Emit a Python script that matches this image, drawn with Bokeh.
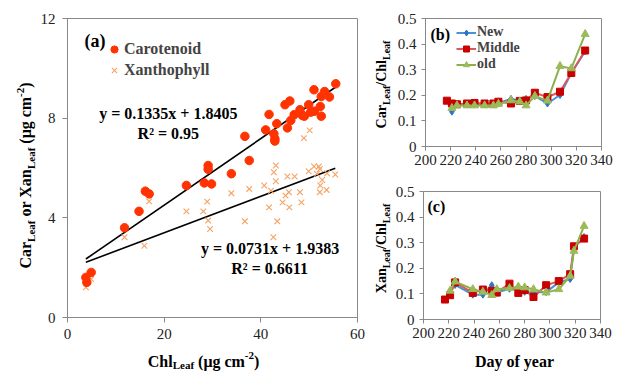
import math
from bokeh.plotting import figure
from bokeh.models import Range1d, FixedTicker, NumeralTickFormatter, Label, Legend, LegendItem
from bokeh.layouts import row, column
from bokeh.embed import file_html
from bokeh.resources import INLINE

# ---------------- data: panel (a) ----------------
car_chl = [3.8, 4.0, 4.9, 11.8, 14.8, 16.1, 16.9, 24.6, 28.3, 29.1, 29.1, 29.8, 33.9, 36.7, 37.6,
           41.0, 41.7, 42.7, 42.9, 42.9, 43.3, 45.0, 45.5, 46.0, 46.2, 46.9, 48.1, 48.6, 49.0,
           49.9, 50.3, 51.0, 51.1, 52.3, 52.5, 52.5, 53.2, 54.2, 55.5]
car_val = [1.61, 1.41, 1.81, 3.60, 4.26, 5.07, 4.96, 5.30, 5.40, 6.10, 5.95, 5.36, 5.77, 7.27, 6.30,
           7.53, 8.15, 7.37, 7.17, 7.08, 7.78, 8.54, 7.61, 8.69, 7.91, 8.14, 8.34, 8.11, 8.08,
           8.54, 8.24, 9.14, 8.28, 8.47, 8.87, 8.08, 9.07, 8.85, 9.38]
xan_chl = [3.8, 3.9, 4.9, 11.8, 15.9, 16.9, 24.6, 28.1, 28.9, 29.1, 29.5, 33.9, 36.7, 37.6, 40.7,
           41.7, 42.1, 42.6, 42.7, 43.1, 43.1, 43.4, 44.5, 45.1, 45.5, 45.8, 45.9, 47.0, 48.1,
           48.4, 48.9, 49.9, 50.1, 51.0, 51.6, 52.0, 52.2, 52.2, 52.3, 52.7, 53.6, 53.7, 55.4]
xan_val = [1.21, 1.37, 1.54, 3.22, 2.88, 4.66, 4.26, 4.26, 4.65, 3.89, 3.55, 4.99, 3.86, 5.16, 5.30,
           4.42, 5.09, 3.22, 5.83, 6.10, 5.47, 3.86, 4.62, 4.89, 5.66, 5.03, 4.42, 5.66, 5.03,
           4.62, 7.20, 5.87, 7.51, 6.06, 5.77, 6.06, 5.96, 5.03, 5.30, 5.52, 5.12, 5.79, 5.74]
car_fit = (0.1335, 1.8405)   # slope, intercept
xan_fit = (0.0731, 1.9383)
car_r2 = "0.95"
xan_r2 = "0.6611"
a_xticks = [0, 20, 40, 60]
a_yticks = [0, 4, 8, 12]

# ---------------- data: panel (b) ----------------
b_mid_days = [217, 221, 225, 233, 239, 247, 254, 258, 268, 275, 280, 287, 297, 307, 316, 327]
b_mid = [0.179, 0.168, 0.165, 0.168, 0.170, 0.168, 0.168, 0.175, 0.168, 0.178, 0.180, 0.210,
         0.193, 0.214, 0.287, 0.375]
b_days = [221, 225, 233, 239, 247, 254, 258, 268, 275, 280, 287, 297, 307, 316, 327]
b_new = [0.136, 0.165, 0.165, 0.165, 0.165, 0.165, 0.170, 0.186, 0.180, 0.186, 0.197, 0.168,
         0.201, 0.286, 0.372]
b_old = [0.150, 0.160, 0.160, 0.160, 0.160, 0.160, 0.166, 0.180, 0.175, 0.160, 0.197, 0.179,
         0.314, 0.305, 0.439]

# ---------------- data: panel (c) ----------------
c_mid_days = [217, 221, 225, 239, 247, 254, 258, 268, 275, 280, 287, 297, 307, 316, 319, 327]
c_mid = [0.078, 0.095, 0.145, 0.104, 0.117, 0.112, 0.105, 0.140, 0.104, 0.115, 0.088, 0.134,
         0.150, 0.177, 0.286, 0.316]
c_days = [221, 225, 239, 247, 254, 258, 268, 275, 280, 287, 297, 307, 316, 319, 327]
c_new = [0.110, 0.135, 0.097, 0.097, 0.134, 0.105, 0.120, 0.118, 0.108, 0.105, 0.107, 0.145,
         0.158, 0.280, 0.322]
c_old = [0.112, 0.148, 0.118, 0.108, 0.095, 0.118, 0.122, 0.128, 0.125, 0.118, 0.105, 0.118,
         0.170, 0.268, 0.365]
bc_xticks = [200, 220, 240, 260, 280, 300, 320, 340]
bc_yticks = [0, 0.1, 0.2, 0.3, 0.4, 0.5]

FONT = "Liberation Serif"
GRAY = "#888888"
TICKC = "#222222"
CAR_C = "#FF3300"
XAN_C = "#F5A263"
NEW_L, NEW_M = "#4A90D9", "#2E75C9"
MID_L, MID_M = "#D9585A", "#C80000"
OLD_L, OLD_M = "#8DB04B", "#9BBB59"

# character advance widths (Times bold, per 1000 em)
W = {' ': 250, '(': 333, ')': 333, '/': 278, '-': 333, '2': 500, 'C': 722, 'D': 722, 'L': 667,
     'X': 722, 'a': 500, 'c': 444, 'd': 556, 'e': 444, 'f': 333, 'g': 500, 'h': 556, 'l': 278,
     'm': 833, 'n': 556, 'o': 500, 'r': 444, 'y': 500, 'μ': 556}


def tw(s, size):
    return sum(W.get(ch, 500) for ch in s) * size / 1000.0


def no_align(p):
    try:
        p.frame_align = False
    except Exception:
        pass


class Panel:
    """a chart figure placed at screen position (ox, oy)"""
    def __init__(self, ox, oy, width, height, left, top, fw, fh, xr, yr, tick_out=5):
        self.ox, self.oy = ox, oy
        self.left, self.top, self.fw, self.fh = left, top, fw, fh
        self.xr, self.yr = xr, yr
        self.p = figure(width=width, height=height, x_range=Range1d(*xr), y_range=Range1d(*yr),
                        output_backend="svg", toolbar_location=None,
                        min_border_left=left, min_border_top=top,
                        min_border_right=width - left - fw, min_border_bottom=height - top - fh)
        p = self.p
        no_align(p)
        p.xgrid.grid_line_color = None
        p.ygrid.grid_line_color = None
        p.outline_line_color = GRAY
        p.outline_line_width = 1
        p.background_fill_color = "white"
        p.border_fill_color = "white"
        for ax in (p.xaxis, p.yaxis):
            ax.axis_line_color = GRAY
            ax.major_tick_line_color = GRAY
            ax.minor_tick_line_color = None
            ax.major_tick_in = 0
            ax.major_tick_out = tick_out
            ax.major_label_text_font = FONT
            ax.major_label_text_font_size = "15px"
            ax.major_label_text_color = TICKC
            ax.axis_label = None

    def d(self, sx, sy):
        fx0 = self.ox + self.left
        fy0 = self.oy + self.top
        x = self.xr[0] + (sx - fx0) / self.fw * (self.xr[1] - self.xr[0])
        y = self.yr[1] - (sy - fy0) / self.fh * (self.yr[1] - self.yr[0])
        return x, y

    def text(self, s, sx, sy, size, align="left", baseline="middle", style="bold"):
        x, y = self.d(sx, sy)
        self.p.add_layout(Label(x=x, y=y, text=s, text_font=FONT, text_font_size=f"{size}px",
                                text_font_style=style, text_align=align, text_baseline=baseline,
                                text_color="black"))


class TextBox:
    """blank figure whose data units are pixels; holds axis titles with sub/superscripts"""
    def __init__(self, ox, oy, width, height):
        self.ox, self.oy, self.w, self.h = ox, oy, width, height
        self.p = figure(width=width, height=height, x_range=Range1d(0, width),
                        y_range=Range1d(0, height), output_backend="svg", title=None,
                        toolbar_location=None, x_axis_type=None, y_axis_type=None,
                        min_border=0, min_border_left=0, min_border_right=0,
                        min_border_top=0, min_border_bottom=0)
        no_align(self.p)
        self.p.grid.visible = False
        self.p.outline_line_color = None
        self.p.background_fill_color = "white"
        self.p.border_fill_color = "white"

    def rich(self, pieces, sx, sy, size, vertical=False):
        """pieces: (text, kind) with kind n/sub/sup; (sx, sy): screen centre on baseline"""
        small = round(size * 0.68)
        widths = [tw(t, small if k != 'n' else size) for t, k in pieces]
        total = sum(widths)
        bx = sx - self.ox
        by = self.h - (sy - self.oy)
        pos = -total / 2.0
        for (t, k), w in zip(pieces, widths):
            fs = size if k == 'n' else small
            shift = 0.0 if k == 'n' else (-0.22 * size if k == 'sub' else 0.40 * size)
            lead = tw(t[:len(t) - len(t.lstrip(' '))], fs)
            txt = t.lstrip(' ')
            if vertical:
                # centre-anchored so the rotation cannot move the box off its place
                cx = bx - shift - 0.34 * fs
                cy = by + pos + lead + (w - lead) / 2.0
                lab = Label(x=cx, y=cy, angle=math.pi / 2, text=txt, text_font=FONT,
                            text_font_size=f"{fs}px", text_font_style="bold",
                            text_align="center", text_baseline="middle", text_color="black")
            else:
                lab = Label(x=bx + pos + lead, y=by + shift, text=txt, text_font=FONT,
                            text_font_size=f"{fs}px", text_font_style="bold",
                            text_align="left", text_baseline="alphabetic", text_color="black")
            self.p.add_layout(lab)
            pos += w


# ---------------- panel (a) ----------------
A = Panel(37, 0, 333, 347, 28, 18, 292, 299, (0, 60), (0, 12))
pa = A.p
pa.xaxis.ticker = FixedTicker(ticks=a_xticks)
pa.yaxis.ticker = FixedTicker(ticks=a_yticks)
pa.xaxis.major_label_standoff = 6
pa.yaxis.major_label_standoff = 7

x0, x1 = min(car_chl), max(car_chl)
pa.line([x0, x1], [car_fit[0] * x0 + car_fit[1], car_fit[0] * x1 + car_fit[1]],
        line_color="black", line_width=1.6)
x0, x1 = min(xan_chl), max(xan_chl)
pa.line([x0, x1], [xan_fit[0] * x0 + xan_fit[1], xan_fit[0] * x1 + xan_fit[1]],
        line_color="black", line_width=1.6)
r_xan = pa.scatter(xan_chl, xan_val, marker="x", size=8, line_color=XAN_C, line_width=1.1)
r_car = pa.scatter(car_chl, car_val, marker="circle", size=8.5, fill_color=CAR_C,
                   line_color=CAR_C)

leg_a = Legend(items=[LegendItem(label="Carotenoid", renderers=[r_car]),
                      LegendItem(label="Xanthophyll", renderers=[r_xan])],
               location=(38, 237), orientation="vertical", padding=0, margin=0, spacing=1,
               glyph_width=18, glyph_height=20, label_height=20, label_standoff=1,
               border_line_color=None, background_fill_alpha=0,
               label_text_font=FONT, label_text_font_style="bold", label_text_font_size="16px")
pa.add_layout(leg_a)

A.text("(a)", 82, 40, 18)
A.text(f"y = {car_fit[0]}x + {car_fit[1]}", 166.5, 113, 16, align="center")
A.text(f"R² = {car_r2}", 166.5, 133, 16, align="center")
A.text(f"y = {xan_fit[0]}x + {xan_fit[1]}", 269, 248, 16, align="center")
A.text(f"R² = {xan_r2}", 268.5, 268, 16, align="center")

ylab_a = TextBox(0, 0, 37, 374)
ylab_a.rich([("Car", 'n'), ("Leaf", 'sub'), (" or Xan", 'n'), ("Leaf", 'sub'), (" (μg cm", 'n'),
             ("-2", 'sup'), (")", 'n')], 30.5, 175, 16, vertical=True)
xlab_a = TextBox(37, 347, 333, 27)
xlab_a.rich([("Chl", 'n'), ("Leaf", 'sub'), (" (μg cm", 'n'), ("-2", 'sup'), (")", 'n')],
            203, 361, 16)


# ---------------- panels (b), (c) ----------------
def ratio_panel(P, mid_days, mid, days, new, old, legend):
    p = P.p
    p.xaxis.ticker = FixedTicker(ticks=bc_xticks)
    p.yaxis.ticker = FixedTicker(ticks=bc_yticks)
    p.yaxis.formatter = NumeralTickFormatter(format="0.[0]")
    p.xaxis.major_label_standoff = 4
    p.yaxis.major_label_standoff = 5
    l_new = p.line(days, new, line_color=NEW_L, line_width=2)
    m_new = p.scatter(days, new, marker="diamond", size=7, fill_color=NEW_M, line_color=NEW_M)
    l_mid = p.line(mid_days, mid, line_color=MID_L, line_width=2)
    m_mid = p.scatter(mid_days, mid, marker="square", size=7, fill_color=MID_M, line_color=MID_M)
    l_old = p.line(days, old, line_color=OLD_L, line_width=2)
    m_old = p.scatter(days, old, marker="triangle", size=8, fill_color=OLD_M, line_color=OLD_M)
    if legend:
        lg = Legend(items=[LegendItem(label="New", renderers=[l_new, m_new]),
                           LegendItem(label="Middle", renderers=[l_mid, m_mid]),
                           LegendItem(label="old", renderers=[l_old, m_old])],
                    location=(31, 74), orientation="vertical", padding=0, margin=0, spacing=0,
                    glyph_width=20, glyph_height=15, label_height=15, label_standoff=1,
                    border_line_color=None, background_fill_alpha=0,
                    label_text_font=FONT, label_text_font_style="bold",
                    label_text_font_size="14px")
        p.add_layout(lg)


B = Panel(392, 0, 240, 178, 33, 18, 176, 128, (200, 340), (0, 0.5), tick_out=4)
ratio_panel(B, b_mid_days, b_mid, b_days, b_new, b_old, True)
B.text("(b)", 430, 33.5, 16)
ylab_b = TextBox(370, 0, 22, 178)
ylab_b.rich([("Car", 'n'), ("Leaf", 'sub'), ("/Chl", 'n'), ("Leaf", 'sub')], 386, 84, 14,
            vertical=True)

C = Panel(392, 178, 240, 168, 31, 13, 177, 128, (200, 340), (0, 0.5), tick_out=4)
ratio_panel(C, c_mid_days, c_mid, c_days, c_new, c_old, False)
C.text("(c)", 427, 205.5, 16)
ylab_c = TextBox(370, 178, 22, 196)
ylab_c.rich([("Xan", 'n'), ("Leaf", 'sub'), ("/Chl", 'n'), ("Leaf", 'sub')], 386, 248, 14,
            vertical=True)
xlab_c = TextBox(392, 346, 240, 28)
xlab_c.rich([("Day of year", 'n')], 514, 361, 16)

layout = row(ylab_a.p, column(pa, xlab_a.p),
             column(row(ylab_b.p, B.p), row(ylab_c.p, column(C.p, xlab_c.p))))
open("out.html", "w").write(file_html(layout, INLINE))
